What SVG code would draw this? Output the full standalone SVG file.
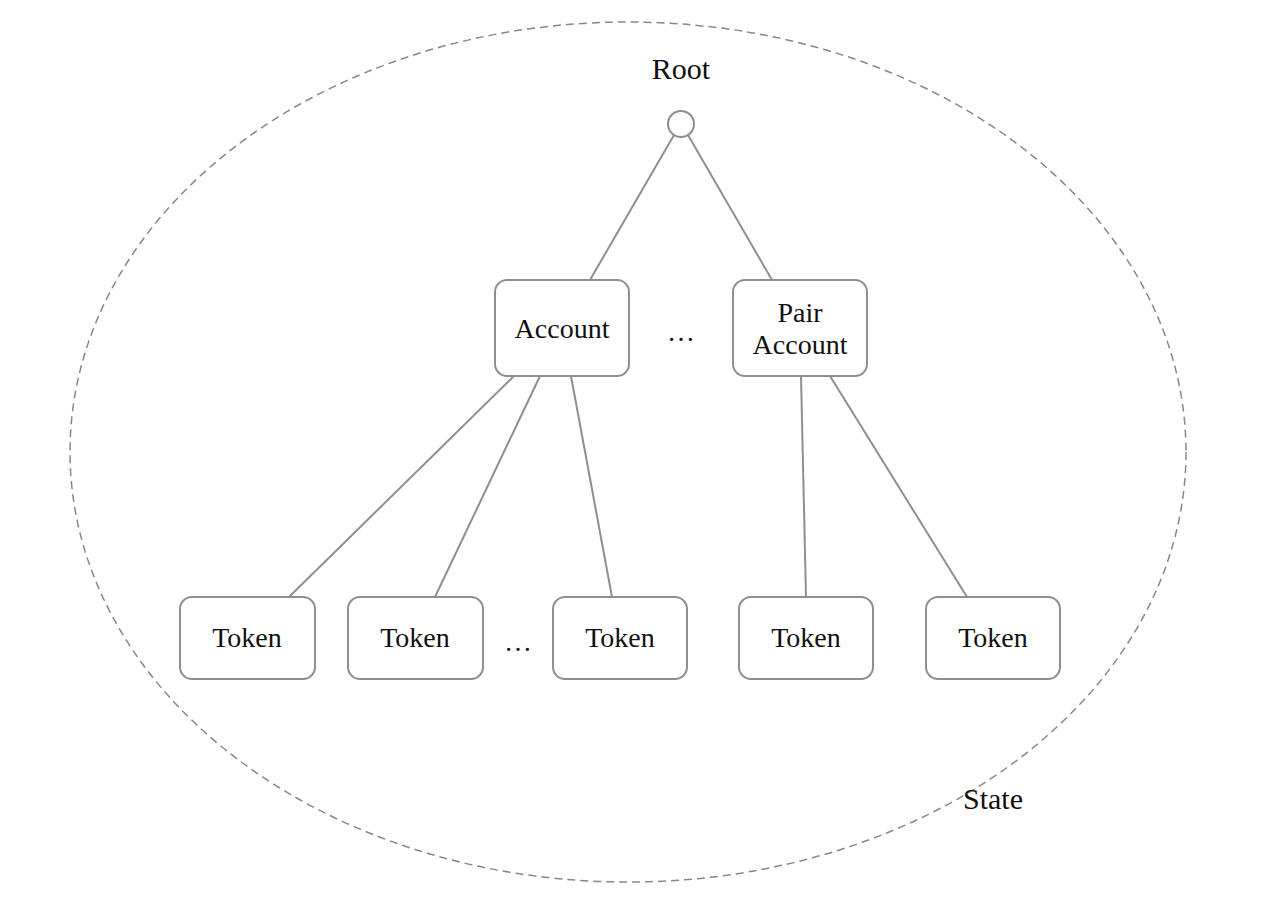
<svg xmlns="http://www.w3.org/2000/svg" width="1274" height="906" viewBox="0 0 1274 906">
<style>
.box{fill:#fff;stroke:#8f8f8f;stroke-width:2}
.t{font-family:"Liberation Serif","DejaVu Serif",serif;font-size:28px;fill:#111;text-anchor:middle}
.big{font-size:30px}
.e{stroke:#8f8f8f;stroke-width:2;fill:none}
</style>
<rect width="1274" height="906" fill="#fff"/>
<g id="state">
<ellipse cx="628" cy="452" rx="558" ry="430" fill="none" stroke="#888" stroke-width="1.5" stroke-dasharray="8,5"/>
<text class="t big" x="993" y="809">State</text>
</g>
<g id="connectors">
<line class="e" x1="674" y1="135" x2="590" y2="280"/>
<line class="e" x1="688" y1="135" x2="772" y2="280"/>
<line class="e" x1="514" y1="376" x2="289" y2="597"/>
<line class="e" x1="540" y1="376" x2="435" y2="597"/>
<line class="e" x1="571" y1="376" x2="612" y2="597"/>
<line class="e" x1="801" y1="376" x2="806" y2="597"/>
<line class="e" x1="830" y1="376" x2="967" y2="597"/>
</g>
<g id="root">
<text class="t big" x="681" y="79">Root</text>
<circle class="box" cx="681" cy="124" r="13"/>
</g>
<g id="account">
<rect class="box" x="495" y="280" width="134" height="96" rx="12"/>
<text class="t" x="562" y="338">Account</text>
</g>
<g id="dots1"><text class="t" x="681" y="341">…</text></g>
<g id="pairaccount">
<rect class="box" x="733" y="280" width="134" height="96" rx="12"/>
<text class="t" x="800" y="322">Pair</text>
<text class="t" x="800" y="354">Account</text>
</g>
<g id="token1">
<rect class="box" x="180" y="597" width="135" height="82" rx="12"/>
<text class="t" x="247" y="647">Token</text>
</g>
<g id="token2">
<rect class="box" x="348" y="597" width="135" height="82" rx="12"/>
<text class="t" x="415" y="647">Token</text>
</g>
<g id="dots2"><text class="t" x="518" y="651">…</text></g>
<g id="token3">
<rect class="box" x="553" y="597" width="134" height="82" rx="12"/>
<text class="t" x="620" y="647">Token</text>
</g>
<g id="token4">
<rect class="box" x="739" y="597" width="134" height="82" rx="12"/>
<text class="t" x="806" y="647">Token</text>
</g>
<g id="token5">
<rect class="box" x="926" y="597" width="134" height="82" rx="12"/>
<text class="t" x="993" y="647">Token</text>
</g>
</svg>
